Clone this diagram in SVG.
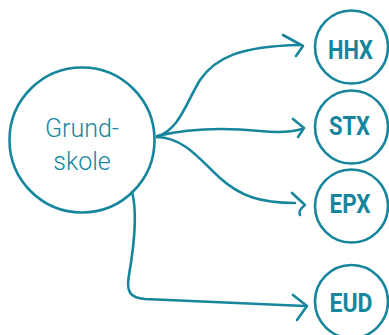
<svg xmlns="http://www.w3.org/2000/svg" width="389" height="335" viewBox="0 0 389 335">
<style>
.c{fill:none;stroke:#17869d;stroke-width:2.6}
.e{fill:none;stroke:#17869d;stroke-width:2.6;stroke-linecap:round;stroke-linejoin:round}
.big{font-family:Roboto,"Open Sans",sans-serif;font-weight:300;font-size:25px;fill:#17869d;text-anchor:middle}
.lbl{font-family:Roboto,"Open Sans",sans-serif;font-weight:700;font-size:25px;fill:#17869d;text-anchor:middle}
</style>
<rect width="389" height="335" fill="#fff"/>
<g id="connectors">
<path class="e" d="M157,137 C180,128 185,105 200,80 C215,58 240,46 300,45"/>
<path class="e" d="M283,35 L303,46 L296,56"/>
<path class="e" d="M157,136 C190,128 230,128 260,131 C280,133 292,132 302,129"/>
<path class="e" d="M293,119 L304,128 L298,137"/>
<path class="e" d="M157,137 C185,138 200,160 220,178 C240,196 260,203 295,203"/>
<path class="e" d="M292,193 L305,205 C300,209 298,212 300,215"/>
<path class="e" d="M132,192 C137,210 135,240 129,275 C126,292 130,298 145,299 L305,306"/>
<path class="e" d="M293,295 L307,306 L297,320"/>
</g>
<g id="grundskole">
<circle class="c" cx="82" cy="140" r="72.5"/>
<text class="big" x="82" y="137">Grund-</text>
<text class="big" x="82" y="170">skole</text>
</g>
<g id="hhx">
<circle class="c" cx="351.5" cy="47" r="36.5"/>
<text class="lbl" x="350.5" y="59" textLength="45" lengthAdjust="spacingAndGlyphs">HHX</text>
</g>
<g id="stx">
<circle class="c" cx="351.5" cy="127" r="36.5"/>
<text class="lbl" x="349.5" y="135" textLength="41" lengthAdjust="spacingAndGlyphs">STX</text>
</g>
<g id="epx">
<circle class="c" cx="351.5" cy="206" r="36.5"/>
<text class="lbl" x="350" y="213" textLength="41" lengthAdjust="spacingAndGlyphs">EPX</text>
</g>
<g id="eud">
<circle class="c" cx="351.5" cy="301.5" r="36.5"/>
<text class="lbl" x="351" y="312" textLength="43" lengthAdjust="spacingAndGlyphs">EUD</text>
</g>
</svg>
